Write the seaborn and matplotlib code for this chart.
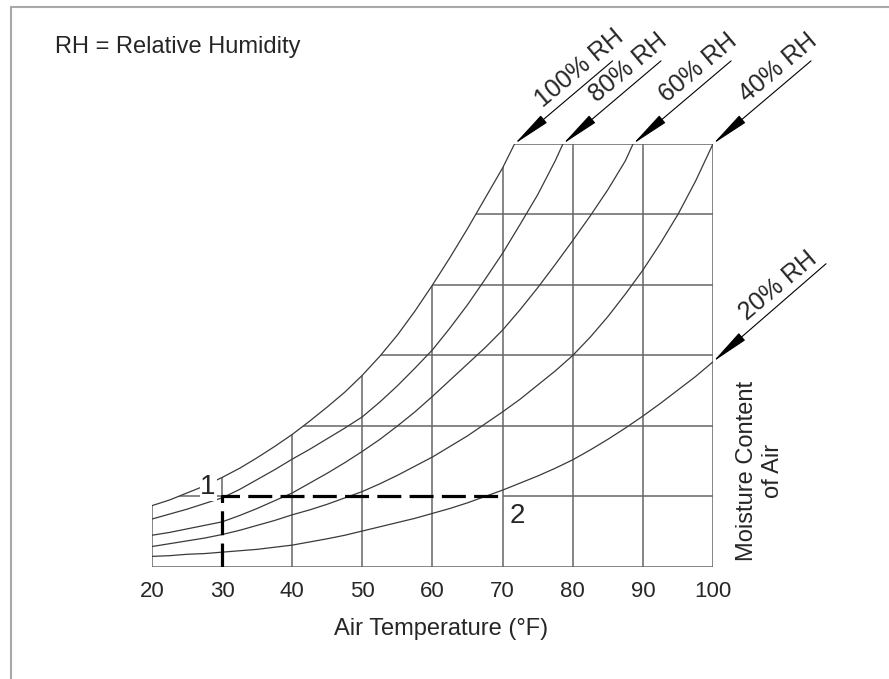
import matplotlib
matplotlib.use("Agg")
import matplotlib.pyplot as plt
from matplotlib.patches import Polygon
from matplotlib.lines import Line2D
import seaborn as sns
import pandas as pd

# curve readings (air temperature in F, moisture content in grid units)
x_100 = [20, 22.5, 25, 27.5, 30, 32.5, 35, 37.5, 40, 42.5, 45, 47.5, 50, 52.5, 55, 57.5,
         60, 62.5, 65, 67.5, 70, 71.7]
y_100 = [0.87, 0.95, 1.05, 1.15, 1.27, 1.40, 1.55, 1.71, 1.88, 2.07, 2.27, 2.48, 2.72, 2.99,
         3.29, 3.63, 4.0, 4.39, 4.8, 5.23, 5.66, 6.0]

x_80 = [20, 22.5, 25, 27.5, 30, 32.5, 35, 37.5, 40, 42.5, 45, 47.5, 50, 52.5, 55, 57.5,
        60, 62.5, 65, 67.5, 70, 72.5, 75, 77.5, 78.6]
y_80 = [0.68, 0.75, 0.82, 0.90, 0.98, 1.10, 1.24, 1.38, 1.53, 1.67, 1.82, 1.97, 2.13, 2.34,
        2.57, 2.82, 3.08, 3.39, 3.72, 4.08, 4.45, 4.86, 5.28, 5.76, 6.0]

x_60 = [20, 22.5, 25, 27.5, 30, 32.5, 35, 37.5, 40, 42.5, 45, 47.5, 50, 52.5, 55, 57.5,
        60, 62.5, 65, 67.5, 70, 72.5, 75, 77.5, 80, 82.5, 85, 87.5, 88.6]
y_60 = [0.45, 0.49, 0.54, 0.59, 0.64, 0.73, 0.83, 0.94, 1.05, 1.19, 1.33, 1.48, 1.64, 1.81,
        2.0, 2.2, 2.42, 2.65, 2.88, 3.11, 3.36, 3.65, 3.96, 4.29, 4.63, 4.98, 5.35, 5.76, 6.0]

x_40 = [20, 22.5, 25, 27.5, 30, 32.5, 35, 37.5, 40, 42.5, 45, 47.5, 50, 52.5, 55, 57.5,
        60, 62.5, 65, 67.5, 70, 72.5, 75, 77.5, 80, 82.5, 85, 87.5, 90, 92.5, 95, 97.5, 100]
y_40 = [0.29, 0.33, 0.37, 0.41, 0.46, 0.52, 0.59, 0.66, 0.74, 0.81, 0.89, 0.98, 1.07, 1.18,
        1.30, 1.43, 1.56, 1.71, 1.86, 2.03, 2.2, 2.38, 2.58, 2.78, 3.0, 3.26, 3.55, 3.87,
        4.21, 4.59, 5.0, 5.47, 6.0]

x_20 = [20, 22.5, 25, 27.5, 30, 32.5, 35, 37.5, 40, 42.5, 45, 47.5, 50, 52.5, 55, 57.5,
        60, 62.5, 65, 67.5, 70, 72.5, 75, 77.5, 80, 82.5, 85, 87.5, 90, 92.5, 95, 97.5, 100]
y_20 = [0.15, 0.16, 0.18, 0.19, 0.21, 0.23, 0.25, 0.28, 0.31, 0.355, 0.40, 0.45, 0.51, 0.57,
        0.63, 0.69, 0.76, 0.83, 0.91, 1.0, 1.09, 1.19, 1.29, 1.40, 1.52, 1.66, 1.81, 1.97,
        2.14, 2.32, 2.51, 2.70, 2.91]

rh_labels = ["100% RH", "80% RH", "60% RH", "40% RH", "20% RH"]
curves_x = [x_100, x_80, x_60, x_40, x_20]
curves_y = [y_100, y_80, y_60, y_40, y_20]

temp_ticks = [20, 30, 40, 50, 60, 70, 80, 90, 100]
grid_levels = [0, 1, 2, 3, 4, 5, 6]

# the process path: point 1 -> point 2
path_x = [30, 30, 70]
path_y = [0, 1, 1]

# long table for seaborn
rows = []
for lab, xs, ys in zip(rh_labels, curves_x, curves_y):
    for a, b in zip(xs, ys):
        rows.append({"temp": a, "moist": b, "rh": lab})
df = pd.DataFrame(rows)

sns.set_style("white")
plt.rcParams["font.family"] = ["Liberation Sans", "DejaVu Sans"]

fig = plt.figure(figsize=(8.89, 6.79), dpi=100)
ax = fig.add_axes([0.171, 0.165, 0.631, 0.623])
ax.set_xlim(20, 100)
ax.set_ylim(0, 6)
for s in ax.spines.values():
    s.set_visible(False)

# grid is only drawn under the 100% curve
verts = [(19.7, -0.03), (19.7, y_100[0])] + list(zip(x_100, y_100)) + \
        [(x_100[-1], 6.03), (100.3, 6.03), (100.3, -0.03)]
clip = Polygon(verts, closed=True, transform=ax.transData, fill=False, visible=False)
ax.add_patch(clip)

grid_kw = dict(color="#666666", lw=1.1, zorder=1)
arts = []
for lv in grid_levels:
    if lv == 1:
        arts.append(ax.hlines(lv, 20, 30, **grid_kw))
        arts.append(ax.hlines(lv, 70, 100, **grid_kw))
    else:
        arts.append(ax.hlines(lv, 20, 100, **grid_kw))
for t in temp_ticks:
    if t == 30:
        arts.append(ax.vlines(t, 1, 6, **grid_kw))
    else:
        arts.append(ax.vlines(t, 0, 6, **grid_kw))
for a in arts:
    a.set_clip_path(clip)

sns.lineplot(data=df, x="temp", y="moist", units="rh", estimator=None,
             color="#3a3a3a", lw=0.9, sort=True, ax=ax, zorder=2)

ax.plot(path_x, path_y, color="black", lw=2.3, ls=(0, (7.5, 2.6)), zorder=3,
        solid_capstyle="butt")

ax.text(28.0, 1.13, "1", fontsize=20, ha="center", va="center", zorder=4,
        bbox=dict(facecolor="white", edgecolor="none", pad=0.5))
ax.text(72.1, 0.72, "2", fontsize=20, ha="center", va="center", zorder=4)

# arrows with labels
for lab, xs, ys in zip(rh_labels, curves_x, curves_y):
    tail = (81.4, 70.6) if lab == "20% RH" else (70.6, 59.8)
    ax.annotate("", xy=(xs[-1], ys[-1]), xytext=tail, textcoords="offset points",
                arrowprops=dict(arrowstyle="-|>,head_length=2.4,head_width=0.3",
                                color="black", lw=0.8, mutation_scale=10,
                                shrinkA=0, shrinkB=0),
                annotation_clip=False)
    ax.annotate(lab, xy=(xs[-1], ys[-1]), xytext=(46.8, 54.7), textcoords="offset points",
                rotation=40, rotation_mode="anchor", ha="center", va="center",
                fontsize=18, annotation_clip=False)

ax.set_xticks(temp_ticks)
ax.set_xticklabels([str(t) for t in temp_ticks])
ax.set_yticks([])
ax.tick_params(axis="x", length=0, pad=10, labelsize=16)
ax.set_xlabel("Air Temperature (°F)", fontsize=17)
ax.set_ylabel("")
ax.xaxis.set_label_coords(0.516, -0.121)

ax.text(106.7, 1.36, "Moisture Content\nof Air", rotation=90, fontsize=17,
        ha="center", va="center", multialignment="center", clip_on=False)

fig.text(55 / 889, 1 - 46.7 / 679, "RH = Relative Humidity", fontsize=17,
         ha="left", va="center")

# frame of the original picture (left and top edge)
fig.add_artist(Line2D([11 / 889, 11 / 889], [0, 1 - 7 / 679], transform=fig.transFigure,
                      color="#a8a8a8", lw=1.5))
fig.add_artist(Line2D([11 / 889, 1], [1 - 7 / 679, 1 - 7 / 679], transform=fig.transFigure,
                      color="#a8a8a8", lw=1.5))

fig.savefig("out.png", dpi=100)
